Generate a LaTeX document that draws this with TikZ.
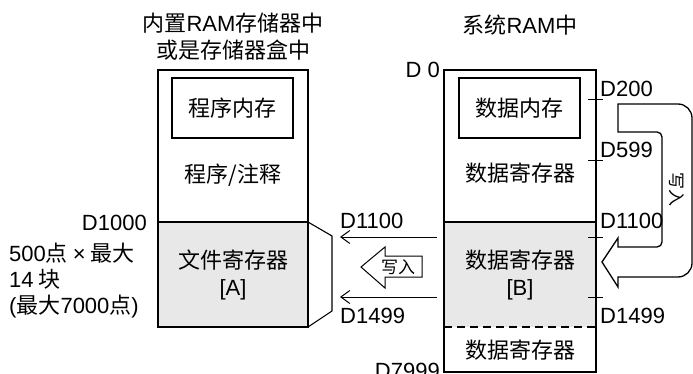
\documentclass[tikz,border=0pt]{standalone}
\usepackage{fontspec}
\setmainfont{Noto Sans CJK SC}
\newfontfamily\lat{Liberation Sans}
\usetikzlibrary{arrows.meta}
\definecolor{regfill}{gray}{0.91}

\begin{document}
\begin{tikzpicture}[
    x=1pt, y=-1pt,
    txt/.style={font=\fontsize{22}{27}\selectfont, inner sep=0pt, align=center},
    addr/.style={font=\fontsize{22}{27}\selectfont\lat, inner sep=0pt},
    small/.style={font=\fontsize{17}{20}\selectfont, inner sep=0pt},
    frame/.style={draw, line width=1.1pt},
    tick/.style={line width=1pt},
    feed/.style={line width=1pt, -{Straight Barb[length=9pt, width=13pt]}},
    bigarrow/.style={draw, line width=1.3pt}
]
\useasboundingbox (0,0) rectangle (693,374);

% left: program memory
\fill[regfill] (158,222) rectangle (308,327);
\draw[frame] (158,70) rectangle (308,327);
\draw[frame] (158,222) -- (308,222);
\draw[frame] (308,222) -- (332,236) -- (332,311) -- (308,327);

\node[txt] (ttl) at (233,37) {内置{\lat RAM}存储器中\\或是存储器盒中};
\node[frame, txt, minimum width=121, minimum height=60] (prog) at (232.5,108) {程序内存};
\node[txt] (cmt) at (233,175) {程序/注释};
\node[txt] (fileA) at (233,275) {文件寄存器\\{\lat [A]}};

\node[addr, anchor=base east] (d1000) at (147,230) {D1000};
\node[txt, anchor=base west] (n1) at (9,261) {{\lat 500}点 {\lat ×} 最大};
\node[txt, anchor=base west] (n2) at (9,287) {{\lat 14} 块};
\node[txt, anchor=base west] (n3) at (9,313) {{\lat (}最大{\lat 7000}点{\lat )}};

% right: system RAM
\fill[regfill] (444,222) rectangle (596,327);
\draw[frame] (444,70) rectangle (596,372);
\draw[frame] (444,222) -- (596,222);
\draw[frame, dash pattern=on 8pt off 5pt] (444,327) -- (596,327);

\node[txt] (ttr) at (520,25) {系统{\lat RAM}中};
\node[frame, txt, minimum width=121, minimum height=60] (datm) at (519.5,108) {数据内存};
\node[txt] (dreg1) at (520,173) {数据寄存器};
\node[txt] (dregB) at (520,275) {数据寄存器\\{\lat [B]}};
\node[txt] (dreg2) at (520,350) {数据寄存器};

\node[addr, anchor=base east] (d0) at (440,78) {D 0};
\node[addr, anchor=base east] (d7999) at (440,378) {D7999};
\node[addr, anchor=base west] (d200) at (600,97) {D200};
\node[addr, anchor=base west] (d599) at (600,158) {D599};
\node[addr, anchor=base west] (d1100r) at (600,228) {D1100};
\node[addr, anchor=base west] (d1499r) at (600,323) {D1499};
\node[addr, anchor=base west] (d1100l) at (340,228) {D1100};
\node[addr, anchor=base west] (d1499l) at (340,323) {D1499};

\foreach \y in {100,161,237,297}
    \draw[tick] (588,\y) -- (603,\y);

% transfer B -> A
\coordinate (b1) at (437,237);
\coordinate (a1) at (340,237);
\coordinate (b2) at (437,297);
\coordinate (a2) at (340,297);
\draw[feed] (b1) -- (a1);
\draw[feed] (b2) -- (a2);

\draw[line width=1pt] (422,256) -- (385,256) -- (385,247) -- (361,267)
    -- (385,288) -- (385,277) -- (422,277) -- cycle;
\node[small] (wrA) at (398,267) {写入};

% write-back arrow
\draw[bigarrow] (650,104) [rounded corners=14pt] -- (692,104) -- (692,277)
    -- (650,277) [sharp corners] -- (618,277) -- (618,287) -- (602,262)
    -- (618,238) -- (618,247) -- (640,247) [rounded corners=5pt] -- (662,247)
    -- (662,132) -- (640,132) [sharp corners] -- (618,132) -- (618,104) -- cycle;
\node[small, rotate=-90] (wrB) at (677,190) {写入};

\end{tikzpicture}
\end{document}
